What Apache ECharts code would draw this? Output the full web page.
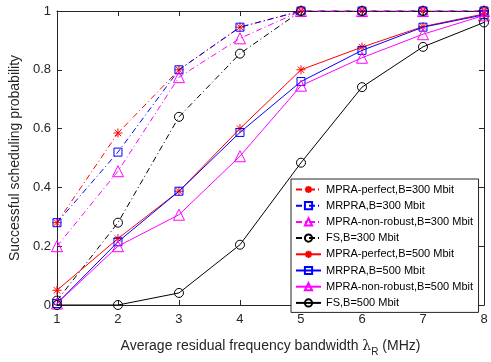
<!DOCTYPE html>
<html><head><meta charset="utf-8">
<script src="https://cdn.jsdelivr.net/npm/echarts@6/dist/echarts.min.js"></script>
<style>html,body{margin:0;padding:0;background:#fff}#c{width:491px;height:362px}</style>
</head><body><div id="c"></div>
<script>
const xs = [1,2,3,4,5,6,7,8];
const xTicks = [1,2,3,4,5,6,7,8];
const yTicks = [0,0.2,0.4,0.6,0.8,1];
const seriesNames = [
  'MPRA-perfect,B=300 Mbit','MRPRA,B=300 Mbit','MPRA-non-robust,B=300 Mbit','FS,B=300 Mbit',
  'MPRA-perfect,B=500 Mbit','MRPRA,B=500 Mbit','MPRA-non-robust,B=500 Mbit','FS,B=500 Mbit'
];
const perfect300   = [0.28, 0.585, 0.80, 0.945, 1, 1, 1, 1];
const mrpra300     = [0.28, 0.52, 0.80, 0.945, 1, 1, 1, 1];
const nonrobust300 = [0.20, 0.455, 0.775, 0.907, 1, 1, 1, 1];
const fs300        = [0.015, 0.28, 0.64, 0.855, 1, 1, 1, 1];
const perfect500   = [0.05, 0.226, 0.387, 0.60, 0.80, 0.877, 0.947, 0.99];
const mrpra500     = [0.005, 0.215, 0.387, 0.587, 0.76, 0.866, 0.945, 0.987];
const nonrobust500 = [0.005, 0.20, 0.307, 0.506, 0.746, 0.841, 0.921, 0.985];
const fs500        = [0, 0, 0.041, 0.205, 0.484, 0.741, 0.878, 0.961];

const values = [perfect300, mrpra300, nonrobust300, fs300, perfect500, mrpra500, nonrobust500, fs500];
const colors = ['#ff0000','#0000ff','#ff00ff','#000000','#ff0000','#0000ff','#ff00ff','#000000'];
const star = 'path://M-10,0L10,0M0,-10L0,10M-7,-7L7,7M-7,7L7,-7';
const symbols = [star,'rect','triangle','circle',star,'rect','triangle','circle'];
const sizes = [9,8,11,9,9,8,11,9];
const dashDot = [6,3,1,3];
const AX = '#262626';

const series = seriesNames.map((n,i)=>({
  name:n, type:'line',
  data: xs.map((x,j)=>[x, values[i][j]]),
  symbol: symbols[i], symbolSize: sizes[i],
  lineStyle:{color:colors[i], width:1, type: i<4 ? dashDot : 'solid'},
  itemStyle:{color:'rgba(0,0,0,0)', borderColor:colors[i], borderWidth:1},
  emphasis:{disabled:true},
  z: 2 + i
}));

const mkAxis = (extra)=>Object.assign({
  type:'value',
  axisLine:{show:true, onZero:false, lineStyle:{color:AX, width:1}},
  axisTick:{show:true, inside:true, length:5, lineStyle:{color:AX}},
  splitLine:{show:false},
}, extra);

const chart = echarts.init(document.getElementById('c'), null, {renderer:'canvas'});
chart.setOption({
  animation:false,
  backgroundColor:'#fff',
  grid:{left:55, right:7, top:11, bottom:50, containLabel:false},
  xAxis:[
    mkAxis({min:xTicks[0], max:xTicks[xTicks.length-1], interval:1, position:'bottom',
      axisLabel:{color:'#262626', fontFamily:'Liberation Sans, Arial', fontSize:13, margin:8},
      name:'Average residual frequency bandwidth {l|λ}{s|R} (MHz)', nameLocation:'middle', nameGap:30,
      nameTextStyle:{color:'#262626', fontFamily:'Liberation Sans, Arial', fontSize:14,
        rich:{l:{fontFamily:'DejaVu Serif, serif', fontSize:14, color:'#262626'},
              s:{fontFamily:'Liberation Sans, Arial', fontSize:10, color:'#262626', padding:[12,0,0,0]}}}}),
    mkAxis({min:xTicks[0], max:xTicks[xTicks.length-1], interval:1, position:'top', axisLabel:{show:false}})
  ],
  yAxis:[
    mkAxis({min:yTicks[0], max:yTicks[yTicks.length-1], interval:0.2, position:'left',
      axisLabel:{color:'#262626', fontFamily:'Liberation Sans, Arial', fontSize:13, margin:6,
        formatter:v=> (Math.abs(v)<1e-9 ? '0' : (Math.abs(v-1)<1e-9 ? '1' : v.toFixed(1)))},
      name:'Successful scheduling probability', nameLocation:'middle', nameGap:32, nameRotate:90,
      nameTextStyle:{color:'#262626', fontFamily:'Liberation Sans, Arial', fontSize:14}}),
    mkAxis({min:yTicks[0], max:yTicks[yTicks.length-1], interval:0.2, position:'right', axisLabel:{show:false}})
  ],
  legend:{
    orient:'vertical', left:291, top:179,
    data: seriesNames,
    itemWidth:25, itemHeight:9, itemGap:5.2,
    padding:[5,5.5,4,4],
    backgroundColor:'#fff', borderColor:AX, borderWidth:1, borderRadius:0,
    textStyle:{color:'#000', fontFamily:'Liberation Sans, Arial', fontSize:11},
    selectedMode:false
  },
  series: series
});
</script></body></html>
